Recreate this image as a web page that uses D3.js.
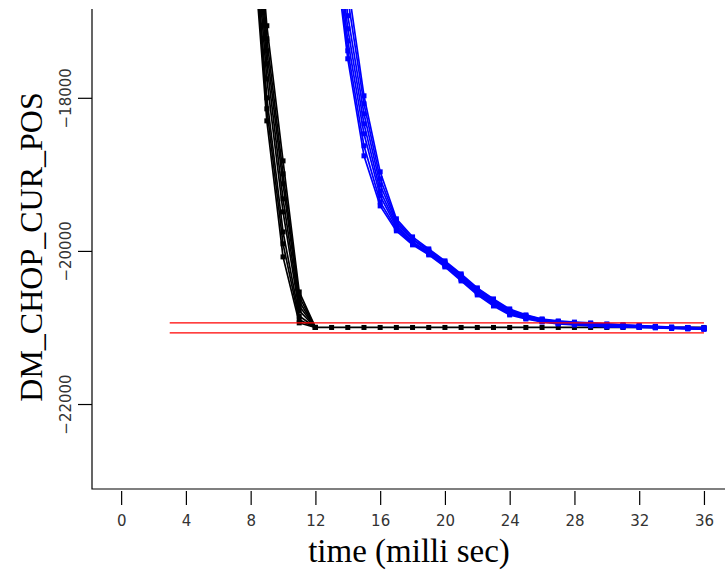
<!DOCTYPE html>
<html>
<head>
<meta charset="utf-8">
<script src="https://cdn.jsdelivr.net/npm/d3@7"></script>
<style>
  body { margin: 0; background: #fff; }
  svg { display: block; }
</style>
</head>
<body>
<div id="chart"></div>
<script>
// time stamps (ms)
const blackTime = [8, 9, 10, 11, 12];
const blackFlatTime = [12, 13, 14, 15, 16, 17, 18, 19, 20, 21, 22, 23, 24, 25, 26, 27, 28, 29, 30, 31, 32, 33, 34, 35, 36];
const blueTime = [13, 14, 15, 16, 17, 18, 19, 20, 21, 22, 23, 24, 25, 26, 27, 28, 29, 30, 31, 32, 33, 34, 35, 36];

// black runs: fast approach
const black1 = [-14500, -17059, -18824, -20536, -21000];
const black2 = [-14650, -17229, -18993, -20600, -21000];
const black3 = [-14800, -17386, -19124, -20660, -21000];
const black4 = [-14950, -17556, -19320, -20720, -21000];
const black5 = [-15100, -17752, -19490, -20780, -21000];
const black6 = [-15250, -18000, -19752, -20850, -21000];
const black7 = [-15400, -18144, -19908, -20900, -21000];
const black8 = [-15550, -18301, -20078, -20940, -21000];
// settled part of the black runs (they all lie on top of each other)
const blackFlat = [-21000, -21000, -21000, -21000, -21000, -21000, -21000, -21000, -21000, -21000, -21000, -21000, -21000,
  -21000, -21000, -21000, -21000, -21000, -21000, -21000, -21000, -21000, -21000, -21000, -21000];

// blue runs: slow approach
const blue1 = [-14700, -16510, -17974, -18967, -19581, -19817, -19974, -20130, -20300, -20483, -20627, -20758, -20836, -20889, -20915, -20930, -20941, -20954, -20965, -20975, -20985, -20995, -21000, -21005];
const blue2 = [-14900, -16706, -18078, -19059, -19608, -19843, -19987, -20143, -20315, -20498, -20642, -20771, -20845, -20895, -20922, -20936, -20947, -20960, -20970, -20979, -20988, -20998, -21003, -21008];
const blue3 = [-15100, -16928, -18209, -19137, -19634, -19856, -20000, -20156, -20330, -20513, -20657, -20784, -20854, -20902, -20928, -20942, -20953, -20966, -20975, -20983, -20991, -21001, -21006, -21011];
const blue4 = [-15300, -17098, -18340, -19216, -19660, -19882, -20013, -20170, -20345, -20529, -20673, -20797, -20863, -20908, -20935, -20948, -20960, -20972, -20980, -20987, -20994, -21004, -21009, -21014];
const blue5 = [-15450, -17255, -18470, -19281, -19686, -19895, -20026, -20183, -20360, -20544, -20688, -20810, -20872, -20915, -20941, -20954, -20966, -20978, -20985, -20991, -20997, -21007, -21012, -21017];
const blue6 = [-15600, -17386, -18627, -19359, -19712, -19908, -20039, -20196, -20375, -20560, -20704, -20823, -20880, -20921, -20948, -20960, -20973, -20985, -20990, -20995, -21000, -21010, -21015, -21020];
const blue7 = [-15750, -17490, -18758, -19412, -19738, -19921, -20052, -20209, -20392, -20575, -20719, -20836, -20889, -20928, -20954, -20967, -20980, -20993, -20995, -21000, -21005, -21013, -21018, -21023];

// tolerance band
const tolTime = [3, 36];
const tolUpper = [-20940, -20940];
const tolLower = [-21070, -21070];

const xTicks = [0, 4, 8, 12, 16, 20, 24, 28, 32, 36];
const yTicks = [-18000, -20000, -22000];

const width = 725;
const height = 571;
const plot = { left: 92, right: 725, top: 9, bottom: 489 };

const svg = d3.select("#chart")
  .append("svg")
  .attr("width", width)
  .attr("height", height);

const x = d3.scaleLinear().domain([-1.8, 37.3]).range([plot.left, plot.right]);
const y = d3.scaleLinear().domain([-23110, -16840]).range([plot.bottom, plot.top]);

svg.append("defs")
  .append("clipPath")
  .attr("id", "plot-clip")
  .append("rect")
  .attr("x", plot.left)
  .attr("y", plot.top)
  .attr("width", plot.right - plot.left)
  .attr("height", plot.bottom - plot.top);

const zip = (ts, vs) => ts.map((t, i) => ({ t: t, v: vs[i] }));
const line = d3.line().x((d) => x(d.t)).y((d) => y(d.v));

const marks = svg.append("g").attr("clip-path", "url(#plot-clip)");

function drawSeries(ts, vs, color) {
  const pts = zip(ts, vs);
  marks.append("path")
    .datum(pts)
    .attr("d", line)
    .attr("fill", "none")
    .attr("stroke", color)
    .attr("stroke-width", 1.7);
  marks.append("g")
    .selectAll("rect")
    .data(pts)
    .join("rect")
    .attr("x", (d) => x(d.t) - 2.5)
    .attr("y", (d) => y(d.v) - 2.5)
    .attr("width", 5)
    .attr("height", 5)
    .attr("fill", color);
}

[black1, black2, black3, black4, black5, black6, black7, black8].forEach((run) => drawSeries(blackTime, run, "#000"));
drawSeries(blackFlatTime, blackFlat, "#000");
[blue1, blue2, blue3, blue4, blue5, blue6, blue7].forEach((run) => drawSeries(blueTime, run, "#0000ff"));

// tolerance lines
[tolUpper, tolLower].forEach((vals) => {
  marks.append("path")
    .datum(zip(tolTime, vals))
    .attr("d", line)
    .attr("fill", "none")
    .attr("stroke", "#ff0000")
    .attr("stroke-width", 1.2);
});

// L-shaped box
svg.append("path")
  .attr("d", `M${plot.left},${plot.top}V${plot.bottom}H${plot.right}`)
  .attr("fill", "none")
  .attr("stroke", "#000")
  .attr("stroke-width", 1.2);

// x axis
const xAxis = svg.append("g")
  .attr("transform", `translate(0,${plot.bottom + 2})`)
  .call(d3.axisBottom(x).tickValues(xTicks).tickSize(14).tickPadding(10).tickFormat(d3.format("d")));
xAxis.select(".domain").remove();
xAxis.selectAll("line").attr("stroke", "#000").attr("stroke-width", 1.2);
xAxis.selectAll("text")
  .style("font-family", "DejaVu Sans")
  .style("font-size", "15px")
  .attr("fill", "#333");

// y axis, labels turned sideways
const yAxis = svg.append("g")
  .attr("transform", `translate(${plot.left},0)`)
  .call(d3.axisLeft(y).tickValues(yTicks).tickSize(14).tickFormat(d3.format("d")));
yAxis.select(".domain").remove();
yAxis.selectAll("line").attr("stroke", "#000").attr("stroke-width", 1.2);
yAxis.selectAll("text")
  .attr("x", null)
  .attr("dy", null)
  .attr("text-anchor", "middle")
  .attr("transform", "translate(-21,0) rotate(-90)")
  .style("font-family", "DejaVu Sans")
  .style("font-size", "15px")
  .attr("fill", "#333");

// axis titles
svg.append("text")
  .attr("x", 409)
  .attr("y", 562)
  .attr("text-anchor", "middle")
  .style("font-family", "Liberation Serif")
  .style("font-size", "33px")
  .text("time (milli sec)");

svg.append("text")
  .attr("transform", "translate(42,247) rotate(-90)")
  .attr("text-anchor", "middle")
  .style("font-family", "Liberation Serif")
  .style("font-size", "32px")
  .text("DM_CHOP_CUR_POS");
</script>
</body>
</html>
